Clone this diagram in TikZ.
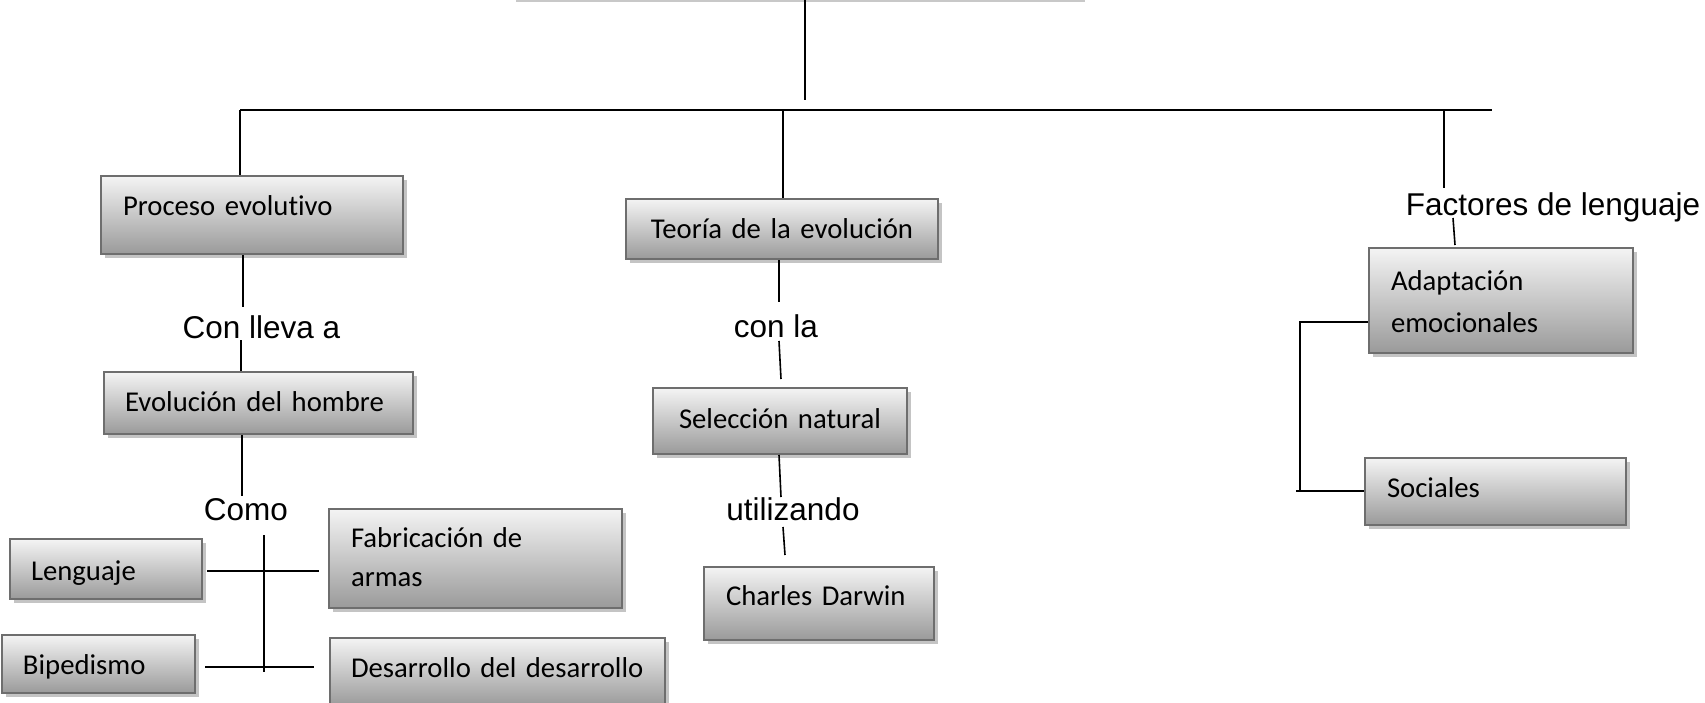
\documentclass[tikz,border=0pt]{standalone}
\usepackage{fontspec}
\setmainfont{Liberation Sans}
\newfontfamily\calfont[Ligatures=NoCommon]{Carlito}
\usetikzlibrary{shadows}
\definecolor{bordergray}{HTML}{6E6E6E}
\definecolor{boxbottom}{HTML}{9A9A9A}
\definecolor{boxtop}{HTML}{F4F4F4}
\definecolor{shadowgray}{HTML}{C4C4C4}
\definecolor{toplinegray}{HTML}{C8C8C8}
\begin{document}
\begin{tikzpicture}[x=1pt,y=-1pt,
  box/.style={draw=bordergray, line width=2pt, top color=boxtop, bottom color=boxbottom,
    drop shadow={shadow xshift=4pt, shadow yshift=-4pt, fill=shadowgray, opacity=1},
    inner ysep=0pt, anchor=north west, align=left,
    font=\calfont\fontsize{28.7}{40}\selectfont},
  cbox/.style={box, align=center},
  lbl/.style={inner sep=0pt, anchor=base, font=\fontsize{31.5}{36}\selectfont},
  conn/.style={line width=1.6pt, black},
  bar/.style={line width=2.6pt, black},
  topline/.style={line width=2pt, toplinegray}]
\useasboundingbox (0,0) rectangle (1705,702);

% boxes
\node[box, inner xsep=22pt, text width=258pt, text height=39.5pt, text depth=38.5pt] (proc) at (100,175) {Proceso evolutivo};
\node[cbox, inner xsep=10pt, text width=292pt, text height=39.5pt, text depth=20.5pt] (teo) at (625,198) {Teoría de la evolución};
\node[box, inner xsep=21pt, text width=267pt, text height=39.5pt, text depth=22.5pt] (evo) at (103,371) {Evolución del hombre};
\node[cbox, inner xsep=10pt, text width=234pt, text height=40.5pt, text depth=25.5pt] (sel) at (652,387) {Selección natural};
\node[box, inner xsep=22pt, text width=186pt, text height=38.5pt, text depth=34.5pt] (dar) at (703,566) {\mbox{Charles Darwin}};
\node[box, inner xsep=21pt, text width=150pt, text height=41.5pt, text depth=18.5pt] (len) at (9,538) {Lenguaje};
\node[box, inner xsep=22pt, text width=249pt, text height=38.5pt, text depth=60.5pt, font=\calfont\fontsize{28.7}{39}\selectfont] (fab) at (328,508) {Fabricación de\\armas};
\node[box, inner xsep=21pt, text width=151pt, text height=39.5pt, text depth=18.5pt] (bip) at (1,634) {Bipedismo};
\node[box, inner xsep=21pt, text width=293pt, text height=39.5pt, text depth=28.5pt] (des) at (329,637) {\mbox{Desarrollo del desarrollo}};
\node[box, inner xsep=22pt, text width=220pt, text height=42.5pt, text depth=62.5pt, font=\calfont\fontsize{28.7}{42}\selectfont] (ada) at (1368,247) {Adaptación\\emocionales};
\node[box, inner xsep=22pt, text width=217pt, text height=39.5pt, text depth=27.5pt] (soc) at (1364,457) {Sociales};

% labels
\node[lbl] (cl) at (261.5,338) {Con lleva a};
\node[lbl] (como) at (246,520) {Como};
\node[lbl] (conla) at (776,337) {con la};
\node[lbl] (util) at (793,520) {utilizando};
\node[lbl] (fac) at (1553,215) {Factores de lenguaje};

% top
\coordinate (t1) at (516,1);
\coordinate (t2) at (1085,1);
\draw[topline] (t1) -- (t2);
\coordinate (v0) at (805,0);
\coordinate (v1) at (805,100);
\draw[conn] (v0) -- (v1);
\coordinate (barL) at (240,110);
\coordinate (barR) at (1492,110);
\draw[bar] (barL) -- (barR);
\coordinate (bm) at (783,110);
\coordinate (br) at (1444,110);
\coordinate (fr) at (1444,188);
\draw[conn] (barL) -- (proc.north -| barL);
\draw[conn] (bm) -- (teo.north -| bm);
\draw[conn] (br) -- (fr);

% left column
\coordinate (p1) at (243,307);
\draw[conn] (proc.south -| p1) -- (p1);
\coordinate (p2) at (241,340);
\draw[conn] (p2) -- (evo.north -| p2);
\coordinate (p3) at (242,496);
\draw[conn] (evo.south -| p3) -- (p3);
\coordinate (xt) at (264,535);
\coordinate (xb) at (264,672);
\draw[conn] (xt) -- (xb);
\coordinate (h1l) at (207,571);
\coordinate (h1r) at (319,571);
\draw[conn] (h1l) -- (h1r);
\coordinate (h2l) at (205,667);
\coordinate (h2r) at (314,667);
\draw[conn] (h2l) -- (h2r);

% middle column
\coordinate (m1) at (779,302);
\draw[conn] (teo.south -| m1) -- (m1);
\coordinate (m2) at (779,341);
\coordinate (m3) at (781,379);
\draw[conn] (m2) -- (m3);
\coordinate (m5) at (781,497);
\draw[conn] (sel.south -| m2) -- (m5);
\coordinate (m6) at (783,527);
\coordinate (m7) at (785,555);
\draw[conn] (m6) -- (m7);

% right column
\coordinate (r1) at (1453,218);
\coordinate (r2) at (1455,245);
\draw[conn] (r1) -- (r2);
\coordinate (bk1) at (1300,322);
\coordinate (bk2) at (1300,491);
\coordinate (bk3) at (1296,491);
\draw[conn] (ada.west |- bk1) -- (bk1) -- (bk2) -- (soc.west |- bk2);
\draw[conn] (bk3) -- (bk2);
\end{tikzpicture}
\end{document}
